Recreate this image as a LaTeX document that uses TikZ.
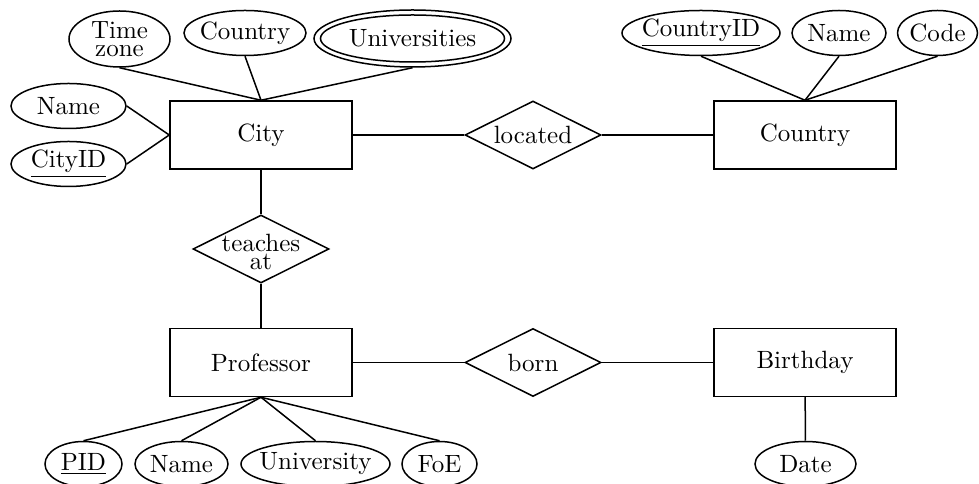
\documentclass[tikz,border=0pt]{standalone}
\usetikzlibrary{shapes.geometric}
\begin{document}
\begin{tikzpicture}[x=0.4pt,y=-0.4pt,line width=0.6pt,
  entity/.style={draw,rectangle,minimum width=72.8pt,minimum height=27.2pt,inner sep=0pt},
  rel/.style={draw,diamond,aspect=2,minimum width=54.4pt,minimum height=27.2pt,inner sep=0pt},
  attr/.style={draw,ellipse,inner sep=0pt,minimum height=18pt},
  tight/.style={align=center,font=\fontsize{10}{7.2}\selectfont}]
\useasboundingbox (0,0) rectangle (979,484);
% entities
\node[entity] (city) at (261,135) {City};
\node[entity] (country) at (805,135) {Country};
\node[entity] (prof) at (261,362.5) {Professor};
\node[entity] (birth) at (805,362.5) {Birthday};
% relationships
\node[rel,label=center:{located}] (located) at (533,135) {};
\node[rel,label=center:{born}] (born) at (533,362.5) {};
\node[rel,label={[tight,yshift=-1pt]center:{teaches\\at}}] (teaches) at (261,249) {};
% city attributes
\node[attr,minimum width=40.4pt,minimum height=22.4pt,label={[tight]center:{Time\\zone}}] (tz) at (119.5,39) {};
\node[attr,minimum width=48.8pt,label=center:{Country}] (cattr) at (245,33) {};
\node[attr,minimum width=78.8pt,minimum height=22.8pt] (univ) at (412.5,38.5) {};
\node[attr,minimum width=73.6pt,minimum height=18.8pt,label=center:{Universities}] (univin) at (412.5,38.5) {};
\node[attr,minimum width=46pt,label=center:{Name}] (cname) at (68.5,106) {};
\node[attr,minimum width=46pt,label=center:{\underline{CityID}}] (cid) at (68.5,164) {};
% country attributes
\node[attr,minimum width=63.2pt,label=center:{\underline{CountryID}}] (ctyid) at (701,33) {};
\node[attr,minimum width=37.6pt,label=center:{Name}] (coname) at (839,33) {};
\node[attr,minimum width=32pt,label=center:{Code}] (code) at (937.5,33) {};
% professor attributes
\node[attr,minimum width=30.8pt,label=center:{\underline{PID}}] (pid) at (83.5,464) {};
\node[attr,minimum width=37.2pt,label=center:{Name}] (pname) at (181.5,464) {};
\node[attr,minimum width=59.6pt,label=center:{University}] (puniv) at (315.5,464) {};
\node[attr,minimum width=30pt,label=center:{FoE}] (foe) at (439.5,464) {};
% birthday attribute
\node[attr,minimum width=40.4pt,label=center:{Date}] (date) at (805.5,464) {};
% connectors
\draw (city) -- (located) -- (country);
\draw (prof) -- (born) -- (birth);
\draw (city) -- (teaches) -- (prof);
\draw (tz.south) -- (city.north);
\draw (cattr.south) -- (city.north);
\draw (univ.south) -- (city.north);
\draw (cname.east) -- (city.west);
\draw (cid.east) -- (city.west);
\draw (ctyid.south) -- (country.north);
\draw (coname.south) -- (country.north);
\draw (code.south) -- (country.north);
\draw (pid.north) -- (prof.south);
\draw (pname.north) -- (prof.south);
\draw (puniv.north) -- (prof.south);
\draw (foe.north) -- (prof.south);
\draw (date) -- (birth);
\end{tikzpicture}
\end{document}
